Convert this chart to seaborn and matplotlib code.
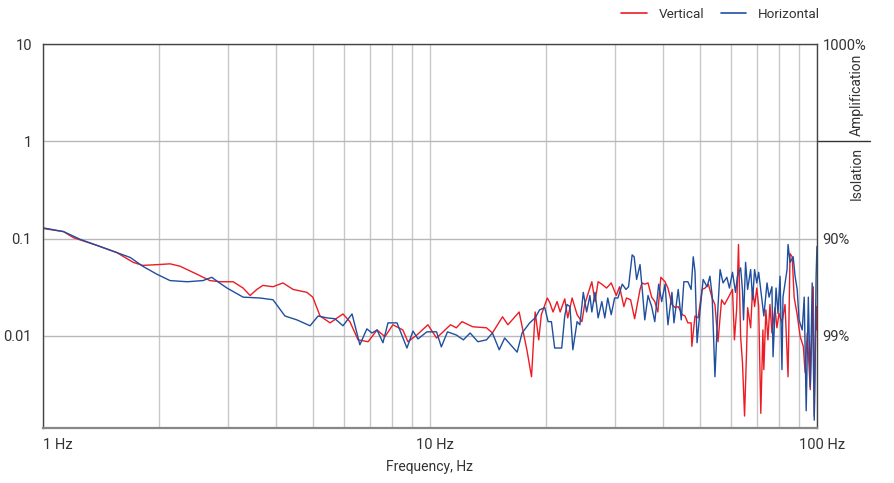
import matplotlib
matplotlib.use("Agg")
import matplotlib.pyplot as plt
import matplotlib.transforms as mtransforms
from matplotlib.ticker import LogLocator, NullLocator, NullFormatter
import seaborn as sns
import pandas as pd

# ---- data (frequency in Hz, transmissibility) ----
vertical_freq = [
    1.0, 1.13, 1.2, 1.38, 1.55, 1.71, 1.81, 1.98, 2.13, 2.26,
    2.5, 2.7, 2.87, 3.1, 3.29, 3.43, 3.57, 3.7, 3.93, 4.17,
    4.43, 4.81, 4.98, 5.2, 5.52, 5.96, 6.21, 6.52, 6.92, 7.3,
    7.65, 8.02, 8.51, 8.77, 9.25, 9.88, 10.4, 11.3, 11.7, 12.1,
    12.9, 14.0, 14.5, 15.4, 15.9, 17.0, 17.8, 18.3, 18.7, 19.1,
    19.4, 20.1, 20.4, 20.8, 21.3, 21.7, 22.3, 22.7, 23.3, 24.0,
    24.7, 25.1, 26.2, 26.7, 27.2, 27.8, 28.6, 29.4, 30.3, 30.9,
    31.7, 32.2, 33.0, 33.8, 34.9, 35.3, 35.9, 36.6, 37.4, 38.1,
    38.8, 39.5, 40.5, 41.2, 42.2, 43.0, 43.8, 44.9, 45.6, 46.4,
    47.3, 47.5, 48.4, 49.3, 50.5, 51.4, 52.4, 53.6, 54.5, 55.5,
    56.7, 57.7, 59.4, 60.5, 61.2, 62.0, 62.7, 63.5, 64.2, 65.0,
    65.8, 66.2, 67.4, 68.2, 69.0, 69.9, 70.7, 71.6, 72.5, 72.9,
    73.8, 74.7, 75.6, 76.5, 77.9, 78.8, 79.8, 81.2, 82.7, 84.2,
    85.2, 86.3, 87.3, 88.9, 90.5, 92.2, 93.2, 94.4, 96.1, 97.8,
    98.4, 99.5, 100.0,
]
vertical_val = [
    0.127, 0.118, 0.102, 0.085, 0.072, 0.057, 0.053, 0.054, 0.055, 0.052,
    0.043, 0.037, 0.036, 0.036, 0.031, 0.026, 0.030, 0.033, 0.032, 0.035,
    0.030, 0.028, 0.025, 0.016, 0.0136, 0.0168, 0.014, 0.0091, 0.0087, 0.0115,
    0.0098, 0.013, 0.0115, 0.0087, 0.0102, 0.013, 0.0095, 0.013, 0.0121, 0.014,
    0.0124, 0.0121, 0.0107, 0.0157, 0.013, 0.0176, 0.0072, 0.0038, 0.0176, 0.0091,
    0.0165, 0.0245, 0.022, 0.0176, 0.0225, 0.0176, 0.024, 0.0153, 0.0245, 0.0165,
    0.014, 0.021, 0.036, 0.0225, 0.036, 0.034, 0.031, 0.035, 0.026, 0.032,
    0.020, 0.0245, 0.0235, 0.015, 0.030, 0.035, 0.034, 0.035, 0.025, 0.0225,
    0.0176, 0.040, 0.036, 0.031, 0.021, 0.0195, 0.020, 0.0165, 0.016, 0.0136,
    0.0136, 0.0078, 0.016, 0.0153, 0.030, 0.031, 0.034, 0.0245, 0.021, 0.0087,
    0.0235, 0.021, 0.026, 0.030, 0.0091, 0.0185, 0.087, 0.0098, 0.0053, 0.0015,
    0.0072, 0.0195, 0.0121, 0.031, 0.020, 0.031, 0.020, 0.0016, 0.0115, 0.0045,
    0.0185, 0.0091, 0.021, 0.0107, 0.0195, 0.0121, 0.017, 0.0136, 0.021, 0.0038,
    0.070, 0.065, 0.025, 0.0165, 0.0098, 0.0078, 0.0042, 0.0107, 0.0028, 0.032,
    0.0015, 0.020, 0.0115,
]

horizontal_freq = [
    1.0, 1.13, 1.25, 1.38, 1.55, 1.68, 1.81, 1.97, 2.13, 2.36,
    2.59, 2.73, 2.83, 2.99, 3.29, 3.64, 3.93, 4.22, 4.53, 4.9,
    5.14, 5.42, 5.68, 5.96, 6.29, 6.59, 6.87, 7.08, 7.3, 7.56,
    7.79, 8.22, 8.72, 9.04, 9.31, 9.82, 10.4, 10.7, 11.1, 11.7,
    12.2, 12.7, 13.3, 14.0, 14.5, 15.1, 15.6, 16.8, 17.3, 18.1,
    18.7, 19.2, 19.8, 20.2, 20.6, 21.0, 21.9, 22.3, 22.6, 23.0,
    23.4, 24.0, 24.4, 24.9, 25.4, 25.9, 26.2, 26.7, 27.2, 27.8,
    28.3, 28.8, 29.4, 30.0, 30.6, 31.4, 32.1, 32.6, 33.3, 33.7,
    34.2, 34.9, 35.5, 35.9, 36.6, 37.4, 38.1, 38.5, 39.0, 39.7,
    40.5, 41.2, 42.2, 42.7, 43.8, 44.6, 45.3, 46.4, 47.3, 47.9,
    48.4, 49.0, 49.9, 50.8, 52.0, 52.9, 53.6, 54.5, 55.5, 56.2,
    57.2, 58.5, 59.4, 60.5, 61.6, 62.3, 63.5, 64.2, 64.6, 65.4,
    66.2, 67.4, 68.2, 69.0, 69.9, 70.7, 72.1, 72.9, 74.3, 75.2,
    76.5, 77.0, 78.4, 79.3, 80.3, 81.2, 81.7, 83.7, 84.2, 85.2,
    86.8, 87.8, 88.9, 89.9, 91.6, 92.7, 93.8, 95.0, 96.1, 97.2,
    98.4, 99.5, 100.0,
]
horizontal_val = [
    0.129, 0.118, 0.098, 0.085, 0.072, 0.064, 0.052, 0.043, 0.037, 0.036,
    0.037, 0.040, 0.036, 0.031, 0.025, 0.0245, 0.0235, 0.016, 0.0146, 0.0127,
    0.016, 0.0153, 0.015, 0.0127, 0.0168, 0.0081, 0.0118, 0.0107, 0.0115, 0.0085,
    0.0136, 0.0136, 0.0075, 0.0112, 0.0093, 0.011, 0.011, 0.0077, 0.011, 0.0102,
    0.0091, 0.0107, 0.0087, 0.0091, 0.0107, 0.0072, 0.0095, 0.0068, 0.0107, 0.0136,
    0.0153, 0.0185, 0.0195, 0.014, 0.014, 0.0075, 0.0075, 0.016, 0.021, 0.020,
    0.0072, 0.014, 0.013, 0.028, 0.0176, 0.026, 0.0176, 0.028, 0.0153, 0.0225,
    0.0153, 0.0245, 0.0165, 0.0245, 0.0245, 0.034, 0.030, 0.032, 0.068, 0.065,
    0.038, 0.054, 0.025, 0.0146, 0.026, 0.020, 0.014, 0.021, 0.034, 0.0225,
    0.034, 0.013, 0.028, 0.0136, 0.030, 0.0146, 0.036, 0.036, 0.030, 0.065,
    0.046, 0.0085, 0.0185, 0.038, 0.032, 0.041, 0.026, 0.0038, 0.020, 0.048,
    0.035, 0.040, 0.031, 0.045, 0.028, 0.041, 0.050, 0.0295, 0.0146, 0.057,
    0.030, 0.048, 0.0235, 0.048, 0.035, 0.045, 0.0235, 0.016, 0.035, 0.025,
    0.032, 0.0061, 0.031, 0.017, 0.041, 0.0045, 0.025, 0.048, 0.087, 0.057,
    0.065, 0.041, 0.030, 0.0146, 0.0115, 0.025, 0.0017, 0.025, 0.003, 0.035,
    0.00136, 0.041, 0.083,
]

x_ticks = [1, 10, 100]
x_tick_labels = ["1 Hz", "10 Hz", "100 Hz"]
y_ticks = [10, 1, 0.1, 0.01]
y_tick_labels = ["10", "1", "0.1", "0.01"]
pct_ticks = [10, 0.1, 0.01]
pct_labels = ["1000%", "90%", "99%"]

RED = "#ed1c24"
BLUE = "#1f4f9e"
TEXT = "#333333"

sns.set_theme(style="white")
plt.rcParams["font.family"] = ["Roboto", "DejaVu Sans"]
plt.rcParams["font.size"] = 10

df = pd.concat([
    pd.DataFrame({"freq": vertical_freq, "value": vertical_val, "axis": "Vertical"}),
    pd.DataFrame({"freq": horizontal_freq, "value": horizontal_val, "axis": "Horizontal"}),
])

fig = plt.figure(figsize=(8.95, 4.83), dpi=100)
ax = fig.add_axes([0.048, 0.1139, 0.8648, 0.795])

sns.lineplot(data=df, x="freq", y="value", hue="axis", estimator=None, sort=False,
             palette={"Vertical": RED, "Horizontal": BLUE}, linewidth=1.0, ax=ax,
             legend=False)

ax.set_xscale("log")
ax.set_yscale("log")
ax.set_xlim(1, 100)
ax.set_ylim(0.00113, 10)

ax.set_xticks(x_ticks)
ax.set_xticklabels(x_tick_labels)
ax.xaxis.set_minor_locator(LogLocator(base=10, subs=range(2, 10)))
ax.xaxis.set_minor_formatter(NullFormatter())
ax.set_yticks(y_ticks)
ax.set_yticklabels(y_tick_labels)
ax.yaxis.set_minor_locator(NullLocator())

ax.grid(True, which="both", axis="x", color="#c8c8c8", linewidth=1.0)
ax.grid(True, which="major", axis="y", color="#b8b8b8", linewidth=1.0)
ax.set_axisbelow(True)
ax.tick_params(axis="both", which="both", length=0, colors=TEXT, labelsize=10.5)
ax.tick_params(axis="x", pad=7)
ax.tick_params(axis="y", pad=8)

for side in ["left", "top", "right"]:
    ax.spines[side].set_color("#444444")
    ax.spines[side].set_linewidth(1.0)
ax.spines["bottom"].set_color("#888888")
ax.spines["bottom"].set_linewidth(1.6)

# x tick labels: first one starts at the axis, the others sit a bit right of the tick
labels = ax.get_xticklabels()
labels[0].set_ha("left")
shift = mtransforms.ScaledTranslation(5 / 100, 0, fig.dpi_scale_trans)
for lab in labels[1:]:
    lab.set_transform(lab.get_transform() + shift)

ax.set_xlabel("Frequency, Hz", color=TEXT, fontsize=10, labelpad=6)
ax.set_ylabel("")

# right-hand percentage axis
ax2 = ax.twinx()
ax2.set_yscale("log")
ax2.set_ylim(ax.get_ylim())
ax2.set_yticks(pct_ticks)
ax2.set_yticklabels(pct_labels)
ax2.yaxis.set_minor_locator(NullLocator())
ax2.tick_params(axis="y", length=0, pad=4, colors=TEXT, labelsize=10.5)
ax2.grid(False)
for s in ax2.spines.values():
    s.set_visible(False)

ytrans = ax.get_yaxis_transform()
ax.plot([1.0, 1.0685], [1, 1], transform=ytrans, color="#333333", linewidth=1.0, clip_on=False)
ax.annotate("Amplification", xy=(1.052, 1), xycoords=ytrans, xytext=(0, 4),
            textcoords="offset points", rotation=90, ha="center", va="bottom",
            color=TEXT, fontsize=10)
ax.annotate("Isolation", xy=(1.052, 1), xycoords=ytrans, xytext=(0, -4),
            textcoords="offset points", rotation=90, ha="center", va="top",
            color=TEXT, fontsize=10)

handles = [plt.Line2D([], [], color=RED, linewidth=1.2),
           plt.Line2D([], [], color=BLUE, linewidth=1.2)]
fig.legend(handles, ["Vertical", "Horizontal"], loc="center right",
           bbox_to_anchor=(0.93, 0.971), ncol=2, frameon=False, fontsize=9.7,
           handlelength=1.9, handletextpad=0.9, columnspacing=1.2,
           labelcolor=TEXT)

fig.savefig("out.png", dpi=100)
